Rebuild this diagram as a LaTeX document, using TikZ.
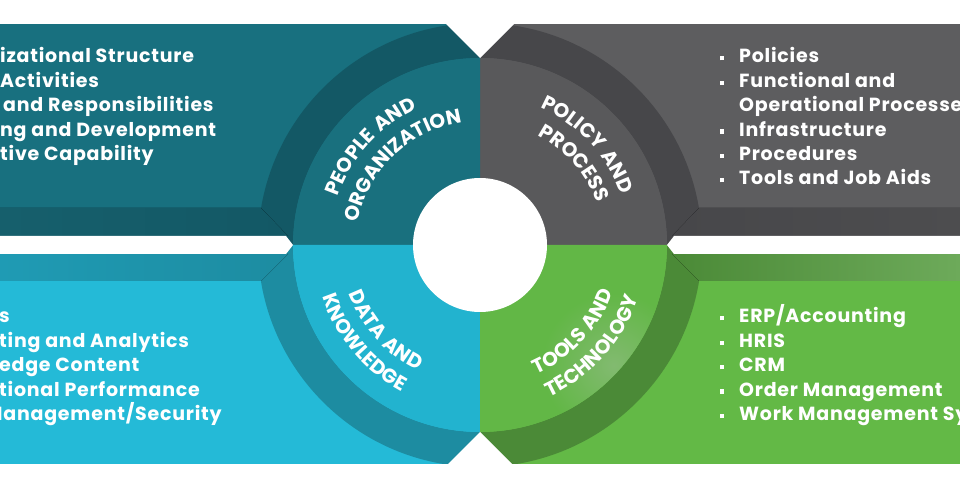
\documentclass[tikz,border=0pt]{standalone}
\usepackage{fontspec}
\setmainfont{Poppins}
\newfontfamily\listfam{Poppins}[LetterSpace=4]
\newfontfamily\ringfam{Poppins}[LetterSpace=7]
\usetikzlibrary{positioning, calc, decorations.text}
\definecolor{tealbg}{HTML}{18707F}
\definecolor{tealring}{HTML}{135865}
\definecolor{tealin}{HTML}{19707E}
\definecolor{tealstrip}{HTML}{165F6C}
\definecolor{graybg}{HTML}{5D5D5F}
\definecolor{grayring}{HTML}{47474A}
\definecolor{grayin}{HTML}{59595B}
\definecolor{graystrip}{HTML}{4D4D4F}
\definecolor{cyanbg}{HTML}{24BAD7}
\definecolor{cyanring}{HTML}{1D8CA1}
\definecolor{cyanin}{HTML}{22B3CF}
\definecolor{cyanstrip}{HTML}{1F9BB4}
\definecolor{greenbg}{HTML}{63B946}
\definecolor{greenring}{HTML}{4B8A37}
\definecolor{greenin}{HTML}{62B746}
\definecolor{greenstrip}{HTML}{6DAA5A}
\definecolor{greenhi}{HTML}{82BA70}
\newcommand{\ringfont}{\ringfam\bfseries\fontsize{20}{20}\selectfont\color{white}}
\newcommand{\bul}{\llap{\rule[2.5pt]{4.3pt}{4.3pt}\hspace{15pt}}}
\tikzset{
  listline/.style={
	anchor=base west,
	text=white,
	font=\listfam\bfseries\fontsize{19}{19}\selectfont, % list text
	inner xsep=0pt, inner ysep=2.5pt,
	text height=14pt, text depth=5pt, % fixed line pitch of 24pt
  },
  ringtext/.style={
	decorate,
	decoration={text along path, text align=center},
  }
}

\begin{document}
\begin{tikzpicture}[x=1pt, y=1pt]
	\useasboundingbox (0,0) rectangle (960,500);
	\clip (0,0) rectangle (960,500);
	\coordinate (c) at (480,255);

	\begin{scope}
	\clip (0,36) rectangle (960,476);
	% quarters
	\fill[tealbg] (0,255) rectangle (480,476);
	\fill[graybg] (480,255) rectangle (960,476);
	\fill[cyanbg] (0,36) rectangle (480,255);
	\fill[greenbg] (480,36) rectangle (960,255);

	% outer ring and inner sectors
	\foreach \ringcol/\incol/\a/\b in {grayring/grayin/0/90, tealring/tealin/90/180, cyanring/cyanin/180/270, greenring/greenin/270/360}{
		\fill[\ringcol] ($(c)+(\a:222)$) arc[start angle=\a, end angle=\b, radius=222] -- ($(c)+(\b:187)$) arc[start angle=\b, end angle=\a, radius=187] -- cycle;
		\fill[\incol] (c) -- ($(c)+(\a:187)$) arc[start angle=\a, end angle=\b, radius=187] -- cycle;
	}

	% strips next to the middle gap
	\fill[left color=tealstrip, right color=tealring] (0,264) -- (288,264) -- (261,292) -- (0,292) -- cycle;
	\fill[left color=cyanstrip, right color=cyanring] (0,246) -- (288,246) -- (261,219) -- (0,219) -- cycle;
	\fill[left color=grayring, right color=graystrip] (672,264) -- (699,292) -- (960,292) -- (960,264) -- cycle;
	\fill[left color=greenring, right color=greenstrip] (672,246) -- (699,219) -- (960,219) -- (960,246) -- cycle;

	% light spot on the green sector
	\begin{scope}
	\clip (c) -- ($(c)+(270:187)$) arc[start angle=270, end angle=360, radius=187] -- cycle;
	\shade[inner color=greenhi, outer color=greenin] ($(c)+(318:180)$) circle (72);
	\end{scope}
	\end{scope}

	% white cuts
	\fill[white] (444,478) -- (480,442) -- (516,478) -- cycle;
	\fill[white] (444,32) -- (480,68) -- (516,32) -- cycle;
	\fill[white] (0,246) -- (286,246) -- (293,255) -- (286,264) -- (0,264) -- cycle;
	\fill[white] (960,246) -- (674,246) -- (667,255) -- (674,264) -- (960,264) -- cycle;
	\fill[white] (c) circle (67);

	% ring labels
	\path[ringtext, decoration={text={|\ringfont|PEOPLE AND}}] ($(c)+(188:150)$) arc[start angle=188, end angle=88, radius=150];
	\path[ringtext, decoration={text={|\ringfont|ORGANIZATION}}] ($(c)+(184:124)$) arc[start angle=184, end angle=84, radius=124];
	\path[ringtext, decoration={text={|\ringfont|POLICY AND}}] ($(c)+(93:150)$) arc[start angle=93, end angle=-7, radius=150];
	\path[ringtext, decoration={text={|\ringfont|PROCESS}}] ($(c)+(91:124)$) arc[start angle=91, end angle=-9, radius=124];
	\path[ringtext, decoration={text={|\ringfont|DATA AND}}] ($(c)+(172:140)$) arc[start angle=172, end angle=272, radius=140];
	\path[ringtext, decoration={text={|\ringfont|KNOWLEDGE}}] ($(c)+(170:166)$) arc[start angle=170, end angle=270, radius=166];
	\path[ringtext, decoration={text={|\ringfont|TOOLS AND}}] ($(c)+(267:141)$) arc[start angle=267, end angle=367, radius=141];
	\path[ringtext, decoration={text={|\ringfont|TECHNOLOGY}}] ($(c)+(268:167)$) arc[start angle=268, end angle=368, radius=167];

	% people and organization
	\node[listline] (tl1) at (0,437) {izational Structure};
	\node[listline, below=0pt of tl1.south west, anchor=north west] (tl2) {Activities};
	\node[listline, below=0pt of tl2.south west, anchor=north west, xshift=3pt] (tl3) {and Responsibilities};
	\node[listline, below=0pt of tl3.south west, anchor=north west, xshift=-3pt] (tl4) {ng and Development};
	\node[listline, below=0pt of tl4.south west, anchor=north west] (tl5) {tive Capability};

	% policy and process
	\node[listline] (tr1) at (739,437) {\bul Policies};
	\node[listline, below=0pt of tr1.south west, anchor=north west] (tr2) {\bul Functional and};
	\node[listline, below=0pt of tr2.south west, anchor=north west] (tr3) {Operational Processes};
	\node[listline, below=0pt of tr3.south west, anchor=north west] (tr4) {\bul Infrastructure};
	\node[listline, below=0pt of tr4.south west, anchor=north west] (tr5) {\bul Procedures};
	\node[listline, below=0pt of tr5.south west, anchor=north west] (tr6) {\bul Tools and Job Aids};

	% data and knowledge
	\node[listline] (bl1) at (-1,177) {s};
	\node[listline, below=0pt of bl1.south west, anchor=north west] (bl2) {ting and Analytics};
	\node[listline, below=0pt of bl2.south west, anchor=north west] (bl3) {edge Content};
	\node[listline, below=0pt of bl3.south west, anchor=north west] (bl4) {tional Performance};
	\node[listline, below=0pt of bl4.south west, anchor=north west, xshift=-14pt] (bl5) {Management/Security};

	% tools and technology
	\node[listline] (br1) at (739,177) {\bul ERP/Accounting};
	\node[listline, below=0pt of br1.south west, anchor=north west] (br2) {\bul HRIS};
	\node[listline, below=0pt of br2.south west, anchor=north west] (br3) {\bul CRM};
	\node[listline, below=0pt of br3.south west, anchor=north west] (br4) {\bul Order Management};
	\node[listline, below=0pt of br4.south west, anchor=north west] (br5) {\bul Work Management Sy};
\end{tikzpicture}
\end{document}
